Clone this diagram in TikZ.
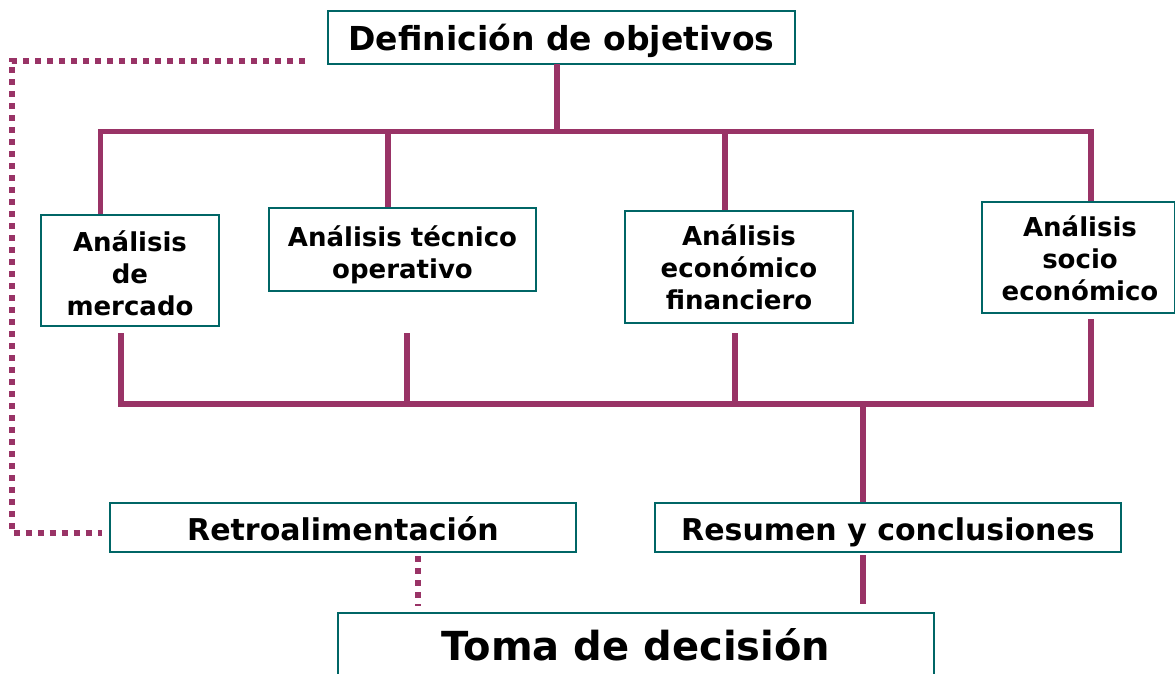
\documentclass[tikz,border=0pt]{standalone}
\usepackage{fontspec}
\setmainfont{DejaVu Sans}
\definecolor{linec}{HTML}{993366}
\definecolor{boxc}{HTML}{006666}
\begin{document}
\begin{tikzpicture}[x=1pt,y=-1pt,
  box/.style={draw=boxc,line width=2pt,fill=white,inner sep=0pt},
  lbl/.style={font=\bfseries\fontsize{26}{32}\selectfont,align=center},
  conn/.style={draw=linec,line width=5.3pt},
  dots/.style={draw=linec,line width=6pt,dash pattern=on 6pt off 6pt}]
\useasboundingbox (0,0) rectangle (1175,673);
% boxes
\node[box,minimum width=467pt,minimum height=53pt] (def) at (561.5,37) {};
\node[font=\bfseries\fontsize{33}{38}\selectfont,anchor=base] (deft) at (561.5,50) {Definición de objetivos};
\node[box,minimum width=178pt,minimum height=111pt] (b1) at (130,270.5) {};
\node[lbl] (b1t) at (130,273) {Análisis\\de\\mercado};
\node[box,minimum width=267pt,minimum height=83pt] (b2) at (402.5,249.5) {};
\node[lbl] (b2t) at (402.5,255) {Análisis técnico\\operativo};
\node[box,minimum width=228pt,minimum height=112pt] (b3) at (739,267) {};
\node[lbl] (b3t) at (739,267.5) {Análisis\\económico\\financiero};
\node[box,minimum width=193pt,minimum height=111pt] (b4) at (1078.5,257.5) {};
\node[lbl] (b4t) at (1080,258) {Análisis\\socio\\económico};
\node[box,minimum width=466pt,minimum height=49pt] (ret) at (343,527) {};
\node[font=\bfseries\fontsize{30}{34}\selectfont,anchor=base] (rett) at (343,540) {Retroalimentación};
\node[box,minimum width=466pt,minimum height=49pt] (res) at (888,527) {};
\node[font=\bfseries\fontsize{30}{34}\selectfont,anchor=base] (rest) at (888,540) {Resumen y conclusiones};
\node[box,minimum width=596pt,minimum height=80pt] (tom) at (636,653) {};
\node[font=\bfseries\fontsize{40}{46}\selectfont,anchor=base] (tomt) at (636,660) {Toma de decisión};
% coordinates
\coordinate (t0) at (557,64);
\coordinate (t1) at (557,131.5);
\coordinate (tl) at (97.8,131.5);
\coordinate (tr) at (1093.8,131.5);
\coordinate (u1) at (100.5,131.5);
\coordinate (u2) at (388,131.5);
\coordinate (u3) at (725,131.5);
\coordinate (u4) at (1091,131.5);
\coordinate (d1) at (121,333);
\coordinate (d2) at (407,333);
\coordinate (d3) at (735,333);
\coordinate (d4) at (1091,322);
\coordinate (h1) at (121,404);
\coordinate (h2) at (407,404);
\coordinate (h3) at (735,404);
\coordinate (h4) at (1091,404);
\coordinate (m) at (863,404);
\coordinate (ry) at (863,555);
\coordinate (rz) at (863,604);
% solid connectors
\draw[conn] (t0) -- (t1);
\draw[conn] (tl) -- (tr);
\draw[conn] (u1) -- (b1.north -| u1);
\draw[conn] (u2) -- (b2.north -| u2);
\draw[conn] (u3) -- (b3.north -| u3);
\draw[conn] (u4) -- (b4.north -| u4);
\draw[conn] (d1) -- (h1);
\draw[conn] (d2) -- (h2);
\draw[conn] (d3) -- (h3);
\draw[conn,line cap=rect] (d4) -- (h4) -- (h1);
\draw[conn] (m) -- (res.north -| m);
\draw[conn] (ry) -- (rz);
% dotted
\coordinate (p0) at (305,60.5);
\coordinate (p1) at (11.5,60.5);
\coordinate (p2) at (11.5,533);
\coordinate (p3) at (102,533);
\draw[dots] (p0) -- (p1) -- (p2) -- (p3);
\coordinate (q0) at (418,556);
\coordinate (q1) at (418,606);
\draw[dots] (q0) -- (q1);
\end{tikzpicture}
\end{document}
